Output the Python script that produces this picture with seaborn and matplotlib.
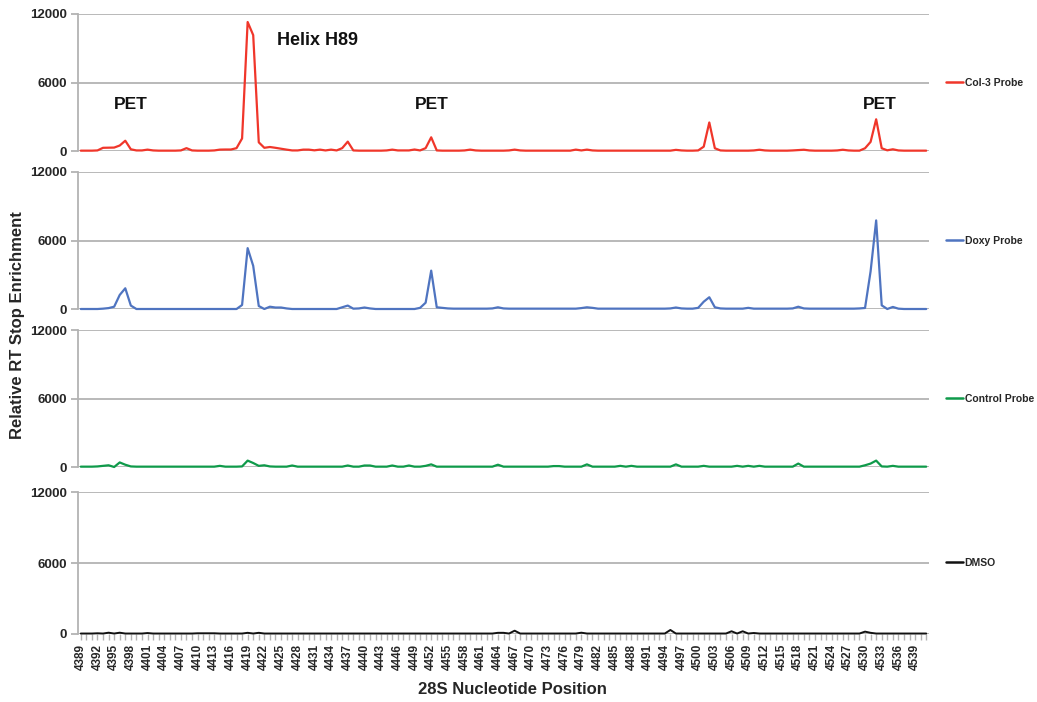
import numpy as np
import pandas as pd
import matplotlib
matplotlib.use("Agg")
import matplotlib.pyplot as plt
from matplotlib.ticker import MultipleLocator, FixedLocator
import seaborn as sns

# ---------------- data ----------------
positions = list(range(4389, 4542))  # 153 nucleotide positions

col3 = [
    30, 30, 30, 50, 280, 290, 300, 480, 900, 150,        # 4389-4398
    50, 50, 120, 50, 30, 30, 30, 30, 50, 250,             # 4399-4408
    50, 30, 30, 30, 50, 120, 130, 130, 250, 1100,         # 4409-4418
    11300, 10150, 760, 280, 350, 280, 200, 120, 50, 50,   # 4419-4428
    120, 120, 60, 120, 50, 120, 50, 250, 820, 50,         # 4429-4438
    30, 30, 30, 30, 30, 50, 120, 50, 50, 50,              # 4439-4448
    130, 50, 250, 1200, 50, 30, 30, 30, 30, 50,           # 4449-4458
    120, 50, 30, 30, 30, 30, 30, 50, 120, 50,             # 4459-4468
    30, 30, 30, 30, 30, 30, 30, 30, 30, 120,              # 4469-4478
    50, 120, 50, 30, 30, 30, 30, 30, 30, 30,              # 4479-4488
    30, 30, 30, 30, 30, 30, 30, 100, 50, 30,              # 4489-4498
    30, 50, 380, 2500, 240, 50, 30, 30, 30, 30,           # 4499-4508
    30, 50, 110, 50, 30, 30, 30, 30, 50, 80,              # 4509-4518
    110, 50, 30, 30, 30, 30, 50, 110, 50, 30,             # 4519-4528
    30, 240, 800, 2780, 240, 60, 150, 50, 30, 30,         # 4529-4538
    30, 30, 30,                                           # 4539-4541
]

doxy = [
    0, 0, 0, 0, 30, 80, 200, 1230, 1815, 300,             # 4389-4398
    0, 0, 0, 0, 0, 0, 0, 0, 0, 0,                         # 4399-4408
    0, 0, 0, 0, 0, 0, 0, 0, 0, 350,                       # 4409-4418
    5330, 3780, 260, 0, 200, 130, 130, 50, 0, 0,          # 4419-4428
    0, 0, 0, 0, 0, 0, 0, 150, 300, 30,                    # 4429-4438
    50, 130, 50, 0, 0, 0, 0, 0, 0, 0,                     # 4439-4448
    0, 100, 550, 3360, 150, 100, 50, 30, 30, 30,          # 4449-4458
    30, 30, 30, 30, 50, 150, 50, 30, 30, 30,              # 4459-4468
    30, 30, 30, 30, 30, 30, 30, 30, 30, 30,               # 4469-4478
    80, 150, 100, 30, 30, 30, 30, 30, 30, 30,             # 4479-4488
    30, 30, 30, 30, 30, 30, 50, 130, 50, 30,              # 4489-4498
    30, 100, 640, 1030, 150, 50, 30, 30, 30, 30,          # 4499-4508
    100, 30, 30, 30, 30, 30, 30, 30, 50, 200,             # 4509-4518
    50, 30, 30, 30, 30, 30, 30, 30, 30, 30,               # 4519-4528
    50, 90, 3300, 7760, 320, 0, 180, 30, 0, 0,            # 4529-4538
    0, 0, 0,                                              # 4539-4541
]

control = [
    30, 30, 30, 50, 100, 150, 0, 400, 200, 50,            # 4389-4398
    30, 30, 30, 30, 30, 30, 30, 30, 30, 30,               # 4399-4408
    30, 30, 30, 30, 30, 100, 30, 30, 30, 50,              # 4409-4418
    560, 350, 100, 150, 50, 30, 30, 30, 130, 30,          # 4419-4428
    30, 30, 30, 30, 30, 30, 30, 30, 130, 30,              # 4429-4438
    30, 130, 130, 30, 30, 30, 130, 30, 30, 130,           # 4439-4448
    30, 30, 100, 230, 30, 30, 30, 30, 30, 30,             # 4449-4458
    30, 30, 30, 30, 30, 200, 30, 30, 30, 30,              # 4459-4468
    30, 30, 30, 30, 30, 80, 80, 30, 30, 30,               # 4469-4478
    30, 230, 30, 30, 30, 30, 30, 100, 30, 100,            # 4479-4488
    30, 30, 30, 30, 30, 30, 30, 230, 30, 30,              # 4489-4498
    30, 30, 100, 30, 30, 30, 30, 30, 100, 30,             # 4499-4508
    100, 30, 100, 30, 30, 30, 30, 30, 30, 300,            # 4509-4518
    30, 30, 30, 30, 30, 30, 30, 30, 30, 30,               # 4519-4528
    30, 150, 300, 560, 50, 30, 100, 30, 30, 30,           # 4529-4538
    30, 30, 30,                                           # 4539-4541
]

dmso = [
    40, 40, 40, 60, 40, 110, 40, 110, 40, 40,             # 4389-4398
    40, 40, 80, 40, 40, 40, 40, 40, 40, 40,               # 4399-4408
    40, 60, 60, 60, 60, 40, 40, 40, 40, 40,               # 4409-4418
    100, 40, 100, 40, 40, 40, 40, 40, 40, 40,             # 4419-4428
    40, 40, 40, 40, 40, 40, 40, 40, 40, 40,               # 4429-4438
    40, 40, 40, 40, 40, 40, 40, 40, 40, 40,               # 4439-4448
    40, 40, 40, 40, 40, 40, 40, 40, 40, 40,               # 4449-4458
    40, 40, 40, 40, 40, 100, 100, 40, 280, 40,            # 4459-4468
    40, 40, 40, 40, 40, 40, 40, 40, 40, 40,               # 4469-4478
    110, 40, 40, 40, 40, 40, 40, 40, 40, 40,              # 4479-4488
    40, 40, 40, 40, 40, 40, 340, 40, 40, 40,              # 4489-4498
    40, 40, 40, 40, 40, 40, 40, 230, 40, 230,             # 4499-4508
    40, 85, 40, 40, 40, 40, 40, 40, 40, 40,               # 4509-4518
    40, 40, 40, 40, 40, 40, 40, 40, 40, 40,               # 4519-4528
    40, 200, 100, 40, 40, 40, 40, 40, 40, 40,             # 4529-4538
    40, 40, 40,                                           # 4539-4541
]

series_names = ["Col-3 Probe", "Doxy Probe", "Control Probe", "DMSO"]
series_values = [col3, doxy, control, dmso]
series_colors = ["#f0362a", "#4f74c0", "#0f9a4a", "#111111"]

y_ticks = [0, 6000, 12000]
x_tick_labels = list(range(4389, 4542, 3))

annotations = [("Helix H89", 4431.5, 9700, 13), ("PET", 4398.0, 4100, 12.5),
               ("PET", 4452.1, 4100, 12.5), ("PET", 4532.7, 4100, 12.5)]

# ---------------- plotting ----------------
sns.set_style("white")
plt.rcParams["font.family"] = ["Liberation Sans", "DejaVu Sans"]

fig = plt.figure(figsize=(10.37, 7.02), dpi=100)

W, H = 1037, 702
left_px, right_px = 78, 929
panels_px = [(14, 151), (172, 309), (330, 467), (492, 634)]

grid_color = "#b3b3b3"

axes = []
for i, (top, bot) in enumerate(panels_px):
    ax = fig.add_axes([left_px / W, 1 - bot / H, (right_px - left_px) / W, (bot - top) / H])
    axes.append(ax)
    df = pd.DataFrame({"position": positions, "value": series_values[i],
                       "series": series_names[i]})
    sns.lineplot(data=df, x="position", y="value", hue="series",
                 palette=[series_colors[i]], ax=ax,
                 linewidth=1.6 if i < 3 else 1.4,
                 legend=True, zorder=3, clip_on=False)
    ax.set_ylim(0, 12000)
    ax.set_xlim(positions[0] - 0.5, positions[-1] + 0.5)
    ax.set_yticks(y_ticks)
    ax.set_yticklabels([str(t) for t in y_ticks], fontsize=9.5, fontweight="bold")
    for t in y_ticks:
        ax.axhline(t, color=grid_color, lw=1.3, zorder=1)
    for s in ["top", "right", "bottom"]:
        ax.spines[s].set_visible(False)
    ax.spines["left"].set_color(grid_color)
    ax.spines["left"].set_linewidth(1.3)
    ax.tick_params(axis="y", direction="out", length=5, color=grid_color,
                   width=1.3, pad=3, left=True)
    ax.set_ylabel("")
    ax.set_xlabel("")
    ax.set_facecolor("none")
    leg = ax.legend(loc="center left", bbox_to_anchor=(1.015, 0.5), frameon=False,
                    handlelength=1.6, handletextpad=0.2, borderaxespad=0,
                    prop={"size": 7.5, "weight": "bold"})
    for ln in leg.get_lines():
        ln.set_linewidth(1.8)
    if i < 3:
        ax.set_xticks([])
    else:
        ax.xaxis.set_major_locator(FixedLocator(x_tick_labels))
        ax.xaxis.set_minor_locator(MultipleLocator(1))
        ax.set_xticklabels([str(v) for v in x_tick_labels], rotation=90,
                           fontsize=8.5, fontweight="bold")
        ax.tick_params(axis="x", which="both", direction="out", length=4,
                       color=grid_color, width=1.0, pad=3, bottom=True)

for txt, xp, yv, fs in annotations:
    axes[0].text(xp, yv, txt, ha="center", va="center", fontsize=fs,
                 fontweight="bold", color="#111111")

fig.text(18 / W, 1 - 325 / H, "Relative RT Stop Enrichment", rotation=90,
         ha="center", va="center", fontsize=12, fontweight="bold")
fig.text(512 / W, 1 - 690 / H, "28S Nucleotide Position", ha="center",
         va="center", fontsize=12, fontweight="bold")

fig.savefig("out.png", dpi=100)
